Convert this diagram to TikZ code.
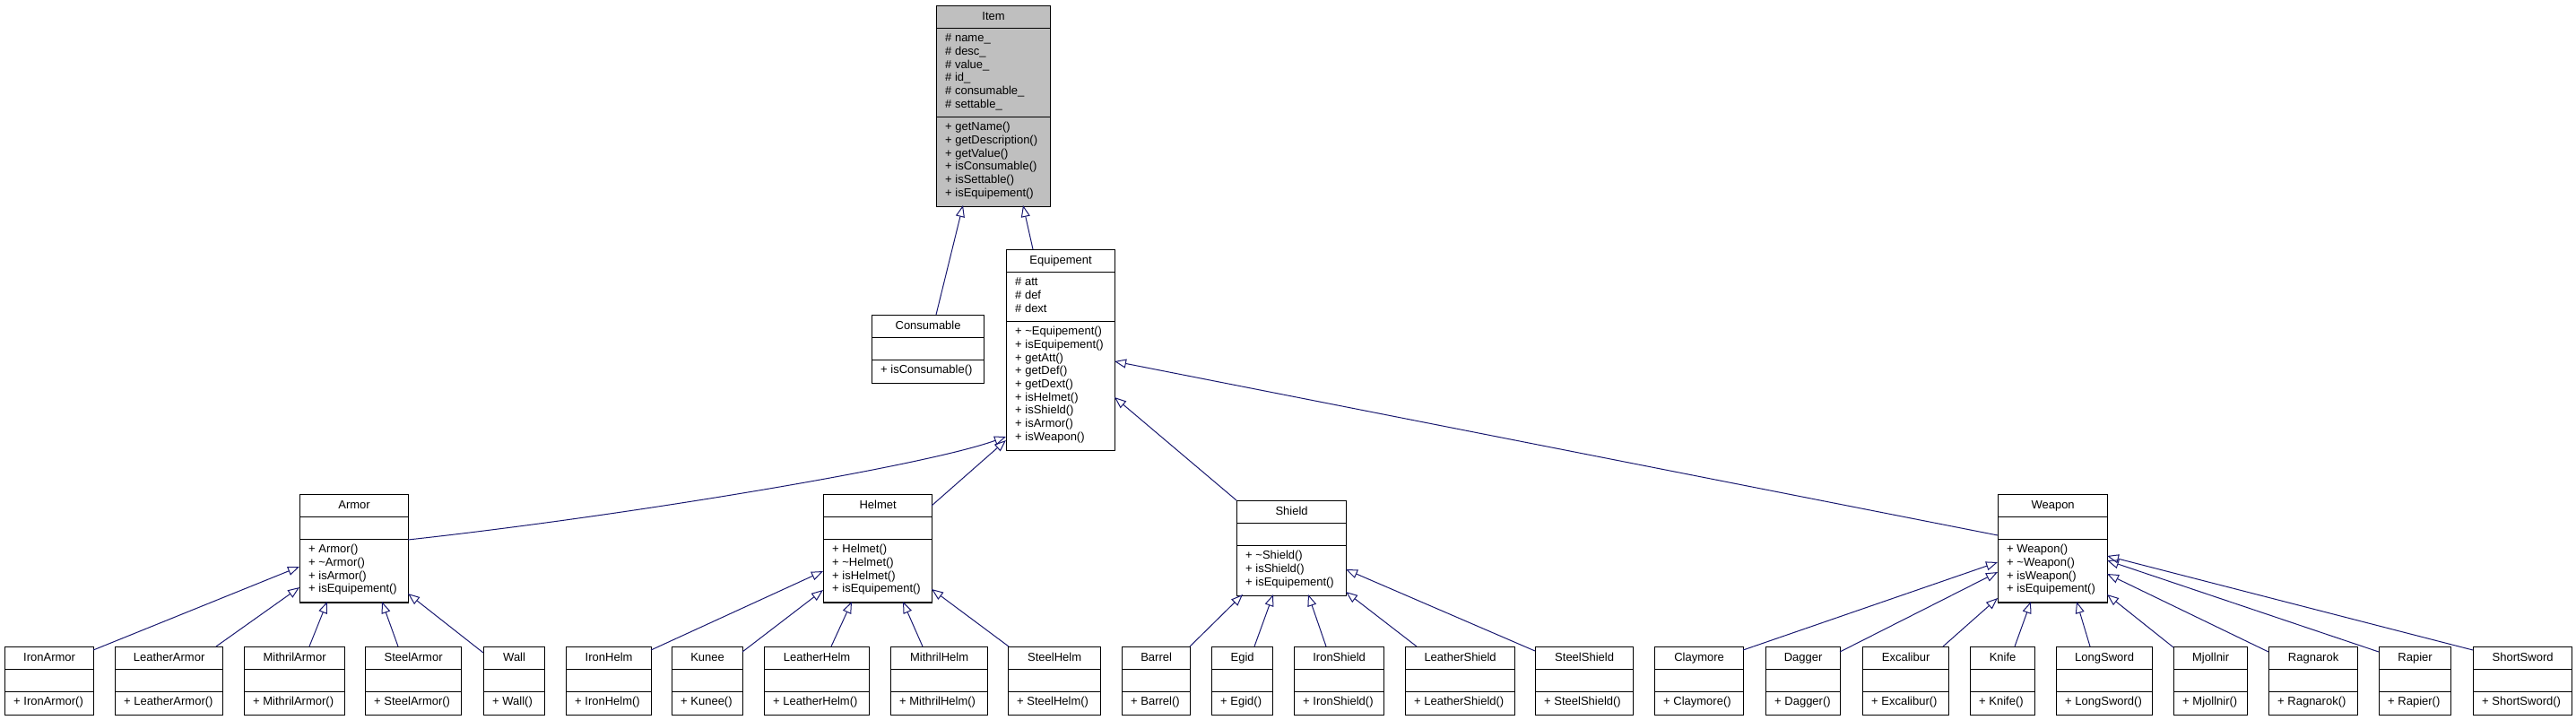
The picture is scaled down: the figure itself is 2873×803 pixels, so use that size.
\documentclass[tikz,border=0pt]{standalone}
\usepackage{fontspec}
\setmainfont{Liberation Sans}
\usetikzlibrary{arrows.meta,calc}
\definecolor{edgeblue}{HTML}{191970}
\definecolor{itemgray}{HTML}{BFBFBF}
\tikzset{
 classbox/.style={draw=black, line width=1.2pt, fill=white, inner sep=0pt, anchor=north west},
 sepline/.style={draw=black, line width=1.2pt},
 titletext/.style={inner sep=0pt, font=\fontsize{13}{14.7}\selectfont, text height=9.4pt, text depth=2.7pt},
 membtext/.style={inner sep=0pt, anchor=north west, align=left, font=\fontsize{13}{14.7}\selectfont},
 inh/.style={draw=edgeblue, line width=1pt, -{Triangle[open, length=13pt, width=10pt]}},
}
\newcommand{\ubfill}{white}
\newcommand{\umlbox}[9]{%
 \pgfmathsetmacro\hA{25.5}%
 \pgfmathsetmacro\hB{#6==0 ? 25 : #6*14.7+11}%
 \pgfmathsetmacro\hC{#8==0 ? 25 : #8*14.7+11}%
 \pgfmathsetmacro\hT{\hA+\hB+\hC}%
 \node[classbox, fill=\ubfill, minimum width=#4pt, minimum height=\hT pt] (#1) at (#2,#3) {};
 \draw[sepline] ($(#1.north west)+(0,\hA)$) -- ($(#1.north east)+(0,\hA)$);
 \draw[sepline] ($(#1.north west)+(0,\hA+\hB)$) -- ($(#1.north east)+(0,\hA+\hB)$);
 \node[titletext] (#1-title) at ($(#1.north)+(0,\hA/2)$) {#5};
 \ifnum#6>0 \node[membtext] (#1-attr) at ($(#1.north west)+(10,\hA+4.7)$) {\strut#7};\fi
 \ifnum#8>0 \node[membtext] (#1-meth) at ($(#1.north west)+(10,\hA+\hB+4.7)$) {\strut#9};\fi
}
\newcommand{\leafbox}[3]{\umlbox{#1}{#2}{721}{#3}{#1}{0}{}{1}{+ #1()}}
\newcommand{\inherit}[6]{\draw[inh] ($(#1.north west)+(#2,#3)$) -- ($(#4.north west)+(#5,#6)$);}
\begin{document}
\begin{tikzpicture}[x=1pt,y=-1pt]
\path[fill=white] (0,0) rectangle (2873,803);
\useasboundingbox (0,0) rectangle (2873,803);

% ---- classes ----
{\renewcommand{\ubfill}{itemgray}%
\umlbox{Item}{1044}{6}{127}{Item}{6}{\# name\_\\\# desc\_\\\# value\_\\\# id\_\\\# consumable\_\\\# settable\_}{6}{+ getName()\\+ getDescription()\\+ getValue()\\+ isConsumable()\\+ isSettable()\\+ isEquipement()}}
\umlbox{Consumable}{972}{351}{125}{Consumable}{0}{}{1}{+ isConsumable()}
\umlbox{Equipement}{1122}{278}{121}{Equipement}{3}{\# att\\\# def\\\# dext}{9}{+ \textasciitilde Equipement()\\+ isEquipement()\\+ getAtt()\\+ getDef()\\+ getDext()\\+ isHelmet()\\+ isShield()\\+ isArmor()\\+ isWeapon()}
\umlbox{Armor}{334}{551}{121}{Armor}{0}{}{4}{+ Armor()\\+ \textasciitilde Armor()\\+ isArmor()\\+ isEquipement()}
\umlbox{Helmet}{918}{551}{121}{Helmet}{0}{}{4}{+ Helmet()\\+ \textasciitilde Helmet()\\+ isHelmet()\\+ isEquipement()}
\umlbox{Shield}{1379}{558}{122}{Shield}{0}{}{3}{+ \textasciitilde Shield()\\+ isShield()\\+ isEquipement()}
\umlbox{Weapon}{2228}{551}{122}{Weapon}{0}{}{4}{+ Weapon()\\+ \textasciitilde Weapon()\\+ isWeapon()\\+ isEquipement()}

\leafbox{IronArmor}{5}{99}
\leafbox{LeatherArmor}{128}{120}
\leafbox{MithrilArmor}{272}{112}
\leafbox{SteelArmor}{407}{107}
\leafbox{Wall}{539}{68}
\leafbox{IronHelm}{631}{95}
\leafbox{Kunee}{749}{79}
\leafbox{LeatherHelm}{852}{117}
\leafbox{MithrilHelm}{993}{108}
\leafbox{SteelHelm}{1124}{103}
\leafbox{Barrel}{1251}{76}
\leafbox{Egid}{1351}{68}
\leafbox{IronShield}{1443}{100}
\leafbox{LeatherShield}{1567}{122}
\leafbox{SteelShield}{1712}{109}
\leafbox{Claymore}{1845}{99}
\leafbox{Dagger}{1969}{83}
\leafbox{Excalibur}{2077}{96}
\leafbox{Knife}{2197}{72}
\leafbox{LongSword}{2293}{107}
\leafbox{Mjollnir}{2424}{82}
\leafbox{Ragnarok}{2530}{99}
\leafbox{Rapier}{2653}{80}
\leafbox{ShortSword}{2758}{110}

% ---- inheritance ----
\inherit{Consumable}{72}{0}{Item}{30}{223}
\inherit{Equipement}{30}{0}{Item}{97}{223}
\draw[inh] ($(Armor.north west)+(121,51)$) .. controls (700,575) and (1030,520) .. ($(Equipement.north west)+(0,209)$);
\inherit{Helmet}{121}{13}{Equipement}{0}{213}
\inherit{Shield}{0}{0}{Equipement}{121}{165}
\inherit{Weapon}{0}{46}{Equipement}{121}{125}

\inherit{IronArmor}{99}{4}{Armor}{0}{81}
\inherit{LeatherArmor}{113}{0}{Armor}{0}{104}
\inherit{MithrilArmor}{73}{0}{Armor}{31}{120}
\inherit{SteelArmor}{37}{0}{Armor}{92}{120}
\inherit{Wall}{0}{7}{Armor}{121}{111}

\inherit{IronHelm}{95}{4}{Helmet}{0}{86}
\inherit{Kunee}{79}{6}{Helmet}{0}{107}
\inherit{LeatherHelm}{75}{0}{Helmet}{32}{120}
\inherit{MithrilHelm}{36}{0}{Helmet}{89}{120}
\inherit{SteelHelm}{1}{0}{Helmet}{121}{106}

\inherit{Barrel}{76}{0}{Shield}{7}{105}
\inherit{Egid}{48}{0}{Shield}{41}{105}
\inherit{IronShield}{36}{0}{Shield}{80}{105}
\inherit{LeatherShield}{13}{0}{Shield}{122}{102}
\inherit{SteelShield}{0}{5}{Shield}{122}{77}

\inherit{Claymore}{99}{4}{Weapon}{0}{76}
\inherit{Dagger}{83}{6}{Weapon}{0}{87}
\inherit{Excalibur}{90}{0}{Weapon}{0}{116}
\inherit{Knife}{50}{0}{Weapon}{37}{120}
\inherit{LongSword}{38}{0}{Weapon}{88}{120}
\inherit{Mjollnir}{0}{1}{Weapon}{122}{112}
\inherit{Ragnarok}{0}{6}{Weapon}{122}{89}
\inherit{Rapier}{0}{6}{Weapon}{122}{74}
\inherit{ShortSword}{0}{4}{Weapon}{122}{69}
\end{tikzpicture}
\end{document}
